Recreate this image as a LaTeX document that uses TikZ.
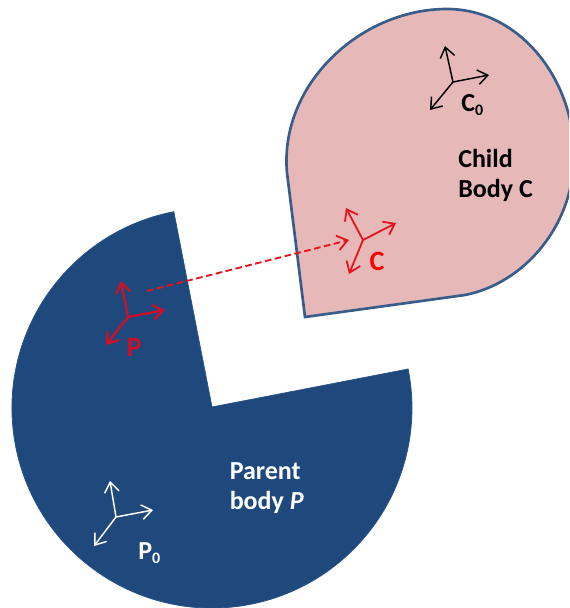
\documentclass[tikz,border=0pt]{standalone}
\usepackage{fontspec}
\setmainfont{Carlito}
\usetikzlibrary{arrows.meta}
\definecolor{parentblue}{HTML}{1F497D}
\definecolor{parentedge}{HTML}{2A5488}
\definecolor{childfill}{HTML}{E6B9B8}
\definecolor{childedge}{HTML}{385D8A}
\definecolor{frameC}{HTML}{E5141E}
\definecolor{frameP}{HTML}{CC1028}
\tikzset{
  x=0.75pt,y=-0.75pt,
  lbl/.style={font=\fontsize{19.5}{22.5}\selectfont\bfseries,inner sep=0pt,align=left},
  redlbl/.style={font=\fontsize{21}{24}\selectfont\bfseries,inner sep=0pt},
  barb/.style={-{Straight Barb[length=7.5pt,width=11pt]}},
  axes/.style={barb,line width=1.1pt},
  axesC/.style={barb,line width=1.35pt},
  axesP/.style={barb,line width=1.7pt}
}
\newcommand{\subnum}{\raisebox{-3pt}{\fontsize{12}{12}\selectfont 0}}
\begin{document}
\begin{tikzpicture}
\useasboundingbox (0,0) rectangle (569,608);
% parent body
\begin{scope}
\clip (0,0) rectangle (569,608);
\fill[parentblue,draw=parentedge,line width=0.6pt] (212,407) -- (173.8,211.7) arc[start angle=-101,end angle=-371.25,radius=200] -- cycle;
% child body
\draw[childedge,fill=childfill,line width=2pt,line join=miter]
  (305,317) -- (287,173) .. controls (279,85) and (360,9) .. (447,9)
  .. controls (520,9) and (574,80) .. (574,155)
  .. controls (574,225) and (525,283) .. (465,295) -- cycle;
\end{scope}
% frames
\coordinate (c0) at (453,82); \coordinate (c0a) at (445,46); \coordinate (c0b) at (489,75); \coordinate (c0c) at (430,110);
\coordinate (p0) at (116,517); \coordinate (p0a) at (110,481); \coordinate (p0b) at (153,510); \coordinate (p0c) at (94,546);
\coordinate (c1) at (363,240); \coordinate (c1a) at (346,208); \coordinate (c1b) at (396,223); \coordinate (c1c) at (349,274);
\coordinate (p1) at (128,317); \coordinate (p1a) at (121,281); \coordinate (p1b) at (165,310); \coordinate (p1c) at (106,345);
\coordinate (ds) at (147,291); \coordinate (de) at (349,240);
\foreach \t in {a,b,c} {
  \draw[axes,black] (c0) -- (c0\t);
  \draw[axes,white] (p0) -- (p0\t);
  \draw[axesC,frameC] (c1) -- (c1\t);
  \draw[axesP,frameP] (p1) -- (p1\t);
}
\draw[frameC,line width=1.4pt,dash pattern=on 5pt off 2.6pt,barb] (ds) -- (de);
% labels
\node[redlbl,text=red] (lc) at (377,261) {C};
\node[redlbl,frameP] (lp) at (134,347) {P};
\node[lbl,black,anchor=west] (lc0) at (461,105) {C\subnum};
\node[lbl,white,anchor=west] (lp0) at (138,553) {P\subnum};
\node[lbl,black,anchor=west] (child) at (458,175) {Child\\Body C};
\node[lbl,white,anchor=west] (parent) at (229.5,488.5) {Parent\\body \textit{P}};
\end{tikzpicture}
\end{document}
